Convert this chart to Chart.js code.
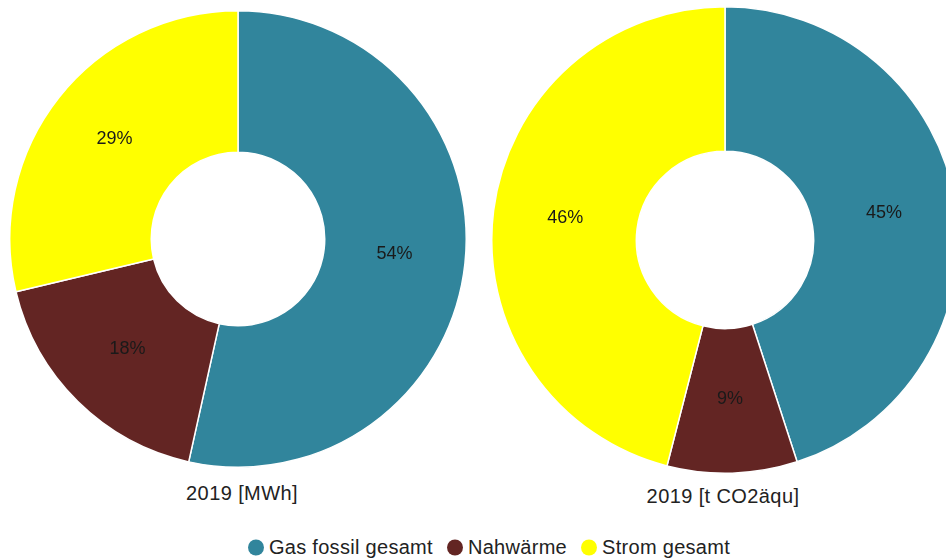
<!DOCTYPE html>
<html>
<head>
<meta charset="utf-8">
<script src="https://cdn.jsdelivr.net/npm/chart.js@4/dist/chart.umd.min.js"></script>
<style>
  html, body { margin: 0; padding: 0; background: #fff; }
  body { width: 946px; height: 558px; overflow: hidden; position: relative; font-family: "Liberation Sans", Arial, sans-serif; }
  .wrap { position: absolute; }
  .cap { position: absolute; transform: translate(-50%, -50%); white-space: nowrap; font-size: 20px; letter-spacing: 0.4px; color: #222; }
  #legend { position: absolute; left: 0; top: 547px; width: 946px; transform: translateY(-50%); display: flex; justify-content: center; align-items: center; font-size: 20px; letter-spacing: 0.3px; color: #222; padding-left: 32px; box-sizing: border-box; }
  #legend .item { display: flex; align-items: center; margin: 0 7px; }
  #legend .dot { width: 16px; height: 16px; border-radius: 50%; margin-right: 5px; }
</style>
</head>
<body>
<div class="wrap" id="w1" style="left:9px; top:10px; width:458px; height:458px;"><canvas id="c1"></canvas></div>
<div class="wrap" id="w2" style="left:491px; top:6px; width:468px; height:468px;"><canvas id="c2"></canvas></div>
<div class="cap" style="left:242px; top:493px;">2019 [MWh]</div>
<div class="cap" style="left:723px; top:496px;">2019 [t CO2äqu]</div>
<div id="legend"></div>
<script>
// Energy sources and their shares in percent
const categories = ['Gas fossil gesamt', 'Nahwärme', 'Strom gesamt'];
const energyShare = [54, 18, 29];   // 2019 [MWh]
const co2Share = [45, 9, 46];       // 2019 [t CO2äqu]
const colors = ['#31859C', '#632523', '#FFFF00'];

// Writes each slice's percentage at the middle of its arc
const sliceLabels = {
  id: 'sliceLabels',
  afterDatasetsDraw(chart) {
    const ctx = chart.ctx;
    const meta = chart.getDatasetMeta(0);
    const values = chart.data.datasets[0].data;
    ctx.save();
    ctx.font = '18px "Liberation Sans", Arial, sans-serif';
    ctx.fillStyle = '#1a1a1a';
    ctx.textAlign = 'center';
    ctx.textBaseline = 'middle';
    meta.data.forEach((arc, i) => {
      const p = arc.tooltipPosition();
      ctx.fillText(values[i] + '%', p.x, p.y - 2);
    });
    ctx.restore();
  }
};

function makeDoughnut(id, values) {
  return new Chart(document.getElementById(id), {
    type: 'doughnut',
    data: {
      labels: categories,
      datasets: [{
        data: values,
        backgroundColor: colors,
        borderColor: '#ffffff',
        borderWidth: 1.5
      }]
    },
    options: {
      responsive: true,
      maintainAspectRatio: false,
      animation: false,
      cutout: '38%',
      layout: { padding: 0 },
      plugins: {
        legend: { display: false },
        tooltip: { enabled: false }
      }
    },
    plugins: [sliceLabels]
  });
}

makeDoughnut('c1', energyShare);
makeDoughnut('c2', co2Share);

// Shared legend under both charts
const legend = document.getElementById('legend');
categories.forEach((name, i) => {
  const item = document.createElement('div');
  item.className = 'item';
  const dot = document.createElement('span');
  dot.className = 'dot';
  dot.style.background = colors[i];
  const txt = document.createElement('span');
  txt.textContent = name;
  item.appendChild(dot);
  item.appendChild(txt);
  legend.appendChild(item);
});
</script>
</body>
</html>
